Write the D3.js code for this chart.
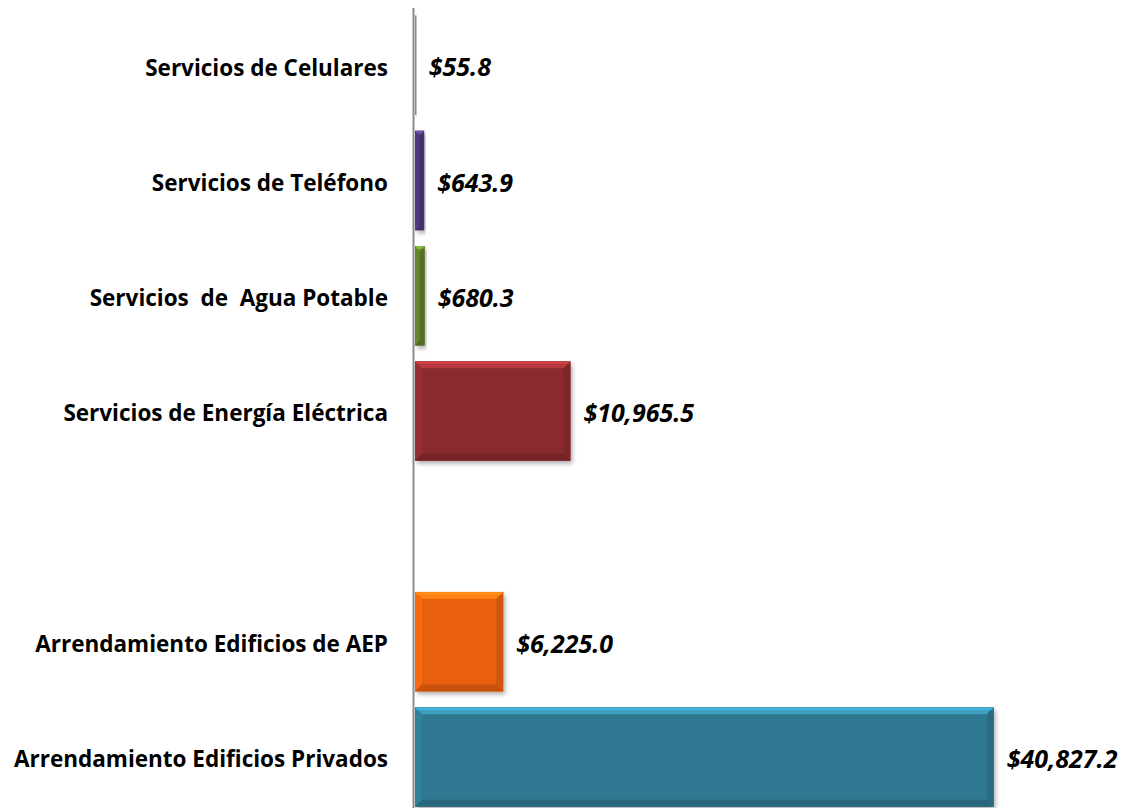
<!DOCTYPE html>
<html>
<head>
<meta charset="utf-8">
<script src="https://cdn.jsdelivr.net/npm/d3@7"></script>
<style>
  html, body { margin: 0; padding: 0; background: #fff; }
  svg { display: block; }
  text { white-space: pre; }
</style>
</head>
<body>
<div id="chart"></div>
<script>
// Gasto en arrendamientos y servicios (miles de pesos)
const categories = [
  "Servicios de Celulares",
  "Servicios de Teléfono",
  "Servicios  de  Agua Potable",
  "Servicios de Energía Eléctrica",
  "",
  "Arrendamiento Edificios de AEP",
  "Arrendamiento Edificios Privados"
];
const values = [55.8, 643.9, 680.3, 10965.5, null, 6225.0, 40827.2];
const valueLabels = ["$55.8", "$643.9", "$680.3", "$10,965.5", "", "$6,225.0", "$40,827.2"];
const barColors = ["#8c8c8c", "#4a3776", "#5e7d2a", "#8b2a2e", null, "#e8600f", "#2e7891"];

const W = 1125, H = 808;
const svg = d3.select("#chart").append("svg")
  .attr("width", W).attr("height", H);

const x = d3.scaleLinear().domain([0, 45000]).range([415, 1053]);
const y = d3.scaleBand().domain(d3.range(categories.length))
  .range([7.5, 814.6]).paddingInner(0.137).paddingOuter(0.0685);

const defs = svg.append("defs");
const shadow = defs.append("filter").attr("id", "shadow")
  .attr("x", "-10%").attr("y", "-10%").attr("width", "130%").attr("height", "130%");
shadow.append("feDropShadow").attr("dx", 2).attr("dy", 3).attr("stdDeviation", 2)
  .attr("flood-color", "#000").attr("flood-opacity", 0.3);

const rows = categories.map((c, i) => ({ c, i, v: values[i], label: valueLabels[i], color: barColors[i] }));
const bars = rows.filter(d => d.v != null);

// bars with bevelled edges
const g = svg.append("g");
const bar = g.selectAll("g.bar").data(bars).join("g").attr("class", "bar");

bar.each(function(d) {
  const sel = d3.select(this);
  const x0 = x(0), x1 = Math.max(x(d.v), x(0) + 1.5);
  const y0 = y(d.i), y1 = y(d.i) + y.bandwidth();
  const w = x1 - x0;
  const b = Math.min(7, w / 2);
  const base = d3.color(d.color);
  sel.append("rect")
    .attr("x", x0).attr("y", y0).attr("width", w).attr("height", y1 - y0)
    .attr("fill", d.color).attr("filter", "url(#shadow)");
  if (w < 3) return;
  const pts = (arr) => arr.map(p => p.join(",")).join(" ");
  // top highlight
  sel.append("polygon").attr("points", pts([[x0, y0], [x1, y0], [x1 - b, y0 + b], [x0 + b, y0 + b]]))
    .attr("fill", base.brighter(0.8));
  // left
  sel.append("polygon").attr("points", pts([[x0, y0], [x0 + b, y0 + b], [x0 + b, y1 - b], [x0, y1]]))
    .attr("fill", base.brighter(0.2));
  // right
  sel.append("polygon").attr("points", pts([[x1, y0], [x1, y1], [x1 - b, y1 - b], [x1 - b, y0 + b]]))
    .attr("fill", base.darker(0.3));
  // bottom
  sel.append("polygon").attr("points", pts([[x0, y1], [x1, y1], [x1 - b, y1 - b], [x0 + b, y1 - b]]))
    .attr("fill", base.darker(0.45));
  // thin top line
  sel.append("line").attr("x1", x0 + 1).attr("x2", x1 - 1).attr("y1", y0 + 1.5).attr("y2", y0 + 1.5)
    .attr("stroke", base.brighter(1.3)).attr("stroke-width", 2).attr("opacity", 0.7);
});

// vertical category axis
svg.append("line")
  .attr("x1", 413.5).attr("x2", 413.5).attr("y1", 8).attr("y2", H)
  .attr("stroke", "#8c8c8c").attr("stroke-width", 2);

// category labels
svg.append("g").selectAll("text").data(rows.filter(d => d.c)).join("text")
  .attr("x", 388).attr("y", d => y(d.i) + y.bandwidth() / 2 + 2.5)
  .attr("dy", "0.35em").attr("text-anchor", "end")
  .attr("font-family", "'Open Sans', sans-serif").attr("font-weight", "bold")
  .attr("font-size", 22.5).attr("fill", "#000")
  .text(d => d.c);

// value labels
svg.append("g").selectAll("text").data(bars).join("text")
  .attr("x", d => x(d.v) + 13).attr("y", d => y(d.i) + y.bandwidth() / 2 + 2.5)
  .attr("dy", "0.35em")
  .attr("font-family", "'Open Sans', sans-serif").attr("font-weight", "bold").attr("font-style", "italic")
  .attr("font-size", 25).attr("fill", "#000")
  .text(d => d.label);
</script>
</body>
</html>
